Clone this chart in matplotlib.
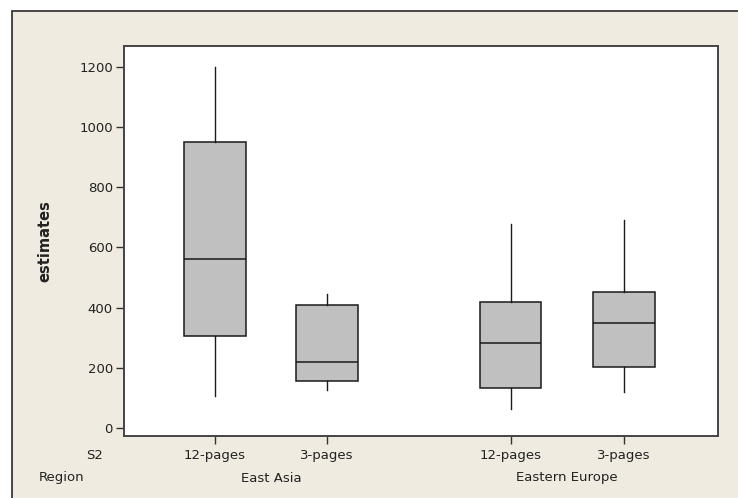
import matplotlib

matplotlib.use("Agg")
import matplotlib.pyplot as plt
from matplotlib.patches import Rectangle

# box summaries for estimates, by S2 within Region
s2_labels = ["12-pages", "3-pages", "12-pages", "3-pages"]
regions = ["East Asia", "Eastern Europe"]
whisker_low = [105, 126, 63, 118]
q1 = [306, 157, 132, 203]
median = [562, 220, 281, 349]
q3 = [950, 408, 420, 451]
whisker_high = [1200, 446, 678, 690]

positions = [1.0, 2.0, 3.64, 4.65]
BEIGE = "#efebe1"
TXT = "#222222"
plt.rcParams["font.family"] = "DejaVu Sans"

W, H = 738, 498
fig = plt.figure(figsize=(W / 100, H / 100), dpi=100)
fig.patch.set_facecolor("white")

# beige panel with a dark frame, running off the right and bottom edges
fig.patches.append(Rectangle((12 / W, -0.01), 1.0, 1 - 11.5 / H + 0.01,
                             transform=fig.transFigure, facecolor=BEIGE,
                             edgecolor="#2a2a2a", linewidth=1.2, zorder=-5))

ax = fig.add_axes([124 / W, (H - 436) / H, (718 - 124) / W, (436 - 46) / H])
ax.set_facecolor("white")

stats = [
    {"whislo": lo, "q1": a, "med": m, "q3": b, "whishi": hi, "fliers": []}
    for lo, a, m, b, hi in zip(whisker_low, q1, median, q3, whisker_high)
]
ax.bxp(stats, positions=positions, widths=0.55, showcaps=False,
       showfliers=False, patch_artist=True,
       boxprops=dict(facecolor="#c0c0c0", edgecolor="#1a1a1a", linewidth=1.1),
       medianprops=dict(color="#1a1a1a", linewidth=1.1),
       whiskerprops=dict(color="#1a1a1a", linewidth=1.0))

ax.set_xlim(0.19, 5.49)
ax.set_ylim(-27, 1270)
ax.set_yticks(range(0, 1201, 200))
ax.set_xticks(positions)
ax.set_xticklabels(s2_labels)
ax.tick_params(axis="both", direction="out", length=6, width=1.0,
               color="#333333", labelsize=9.5, labelcolor=TXT, pad=2)
ax.tick_params(axis="x", pad=3)
for sp in ax.spines.values():
    sp.set_color("#444444")
    sp.set_linewidth(1.4)

ax.set_ylabel("estimates", fontsize=10.5, fontweight="bold", color=TXT,
              va="center")
ax.yaxis.set_label_coords((45 - 124) / 594, 0.5)

# second row of category labels under the tick labels
row2 = 1 - 478 / H
for name, (a, b) in zip(regions, [(positions[0], positions[1]),
                                  (positions[2], positions[3])]):
    ax.annotate(name, xy=((a + b) / 2, row2), xycoords=("data", "figure fraction"),
                ha="center", va="center", fontsize=9.5, color=TXT)
fig.text(95 / W, 1 - 455 / H, "S2", ha="center", va="center", fontsize=9.5,
         color=TXT)
fig.text(62 / W, row2, "Region", ha="center", va="center", fontsize=9.5,
         color=TXT)

fig.savefig("out.png", dpi=100, facecolor=fig.get_facecolor())
